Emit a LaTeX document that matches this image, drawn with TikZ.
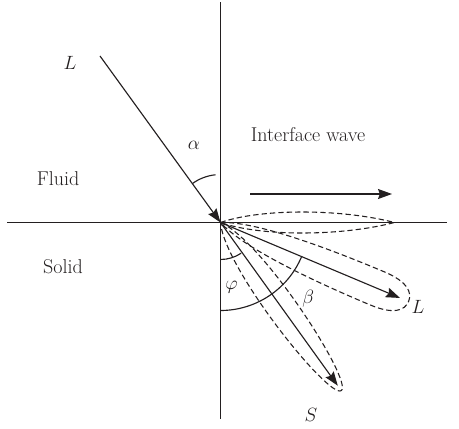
\documentclass[tikz,border=0pt]{standalone}
\usetikzlibrary{arrows.meta}
\definecolor{fsInk}{HTML}{231F20}
\tikzset{
  fs axis/.style={draw=fsInk, line width=0.9pt},
  fs ray/.style={draw=fsInk, line width=0.85pt, -{Stealth[length=10.5pt,width=7.5pt,inset=1.4pt]}},
  fs lobe/.style={draw=fsInk, line width=0.8pt, dash pattern=on 4pt off 2.3pt},
  fs arc/.style={draw=fsInk, line width=0.85pt},
  fs label/.style={font=\fontsize{15}{18}\selectfont, text=fsInk},
}

\begin{document}
\begin{tikzpicture}[x=0.75pt, y=0.75pt]
  \useasboundingbox (-220.5,-205.5) rectangle (238.5,222.5);
  % Interface and normal
  \coordinate (O) at (0,0);
  \coordinate (top) at (0,220);
  \coordinate (bot) at (0,-196);
  \coordinate (west) at (-213,0);
  \coordinate (east) at (226.5,0);
  \draw[fs axis] (top) -- (bot);
  \draw[fs axis] (west) -- (east);
  % Rays
  \coordinate (Lsrc) at (-120.5,166.5);
  \coordinate (Ltip) at (-22.8:194.7);
  \coordinate (Stip) at (-54.3:201);
  \draw[fs ray] (Lsrc) -- (O);
  \draw[fs ray] (O) -- (Ltip);
  \draw[fs ray] (O) -- (Stip);
  % Interface wave arrow
  \coordinate (wsrc) at (29.5,28.5);
  \coordinate (wtip) at (171.5,28.5);
  \draw[fs ray] (wsrc) -- (wtip);
  % Dashed lobes
  \draw[fs lobe] (O) .. controls (40,14) and (120,14) .. (174,0)
    .. controls (120,-14) and (40,-14) .. (O);
  \begin{scope}[rotate=-22.8]
    \draw[fs lobe] (0,0) .. controls (30,14) and (100,18) .. (170,18)
      .. controls (195,18) and (204,10) .. (204,0)
      .. controls (204,-10) and (195,-18) .. (170,-18)
      .. controls (100,-18) and (30,-14) .. (0,0);
  \end{scope}
  \begin{scope}[rotate=-54.3]
    \draw[fs lobe] (0,0) .. controls (40,24) and (207,15) .. (207,0)
      .. controls (207,-15) and (40,-24) .. (0,0);
  \end{scope}
  % Angle marks
  \draw[fs arc] (126:48) arc[start angle=126, end angle=96, radius=48];
  \draw[fs arc] (-90:37) arc[start angle=-90, end angle=-56, radius=37];
  \draw[fs arc] (-90:88) arc[start angle=-90, end angle=-23, radius=88];
  % Labels
  \node[fs label] (Lin) at (-150.5,159.5) {$L$};
  \node[fs label] (alpha) at (-26.5,77.5) {$\alpha$};
  \node[fs label] (fluid) at (-162.5,43.5) {Fluid};
  \node[fs label] (solid) at (-157.5,-44.5) {Solid};
  \node[fs label] (iwave) at (87.5,87.5) {Interface wave};
  \node[fs label] (phi) at (11,-65) {$\varphi$};
  \node[fs label] (beta) at (87.8,-76) {$\beta$};
  \node[fs label] (Lout) at (197.5,-84.5) {$L$};
  \node[fs label] (Sout) at (90.5,-192.5) {$S$};
\end{tikzpicture}
\end{document}
